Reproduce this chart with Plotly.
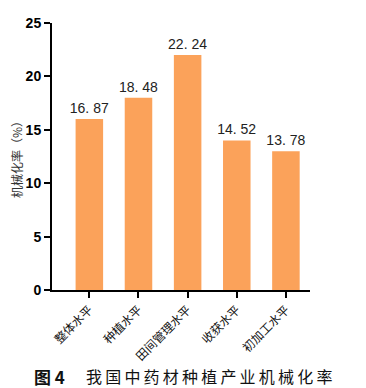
import plotly.graph_objects as go

categories = ["整体水平", "种植水平", "田间管理水平", "收获水平", "初加工水平"]
bar_heights = [16, 18, 22, 14, 13]
value_labels = ["16. 87", "18. 48", "22. 24", "14. 52", "13. 78"]
y_ticks = [0, 5, 10, 15, 20, 25]
caption_label = "图 4"
caption_text = "我国中药材种植产业机械化率"

fig = go.Figure()
fig.add_trace(go.Bar(
    x=categories, y=bar_heights,
    marker=dict(color="#FBA25A", line=dict(width=0)),
    width=0.56,
    text=value_labels, textposition="outside",
    constraintext="none",
    textfont=dict(family="Liberation Sans, Arial", size=14, color="#222"),
    cliponaxis=False,
))

fig.update_layout(
    width=366, height=388,
    margin=dict(l=52, r=56, t=23, b=98, autoexpand=False),
    paper_bgcolor="white", plot_bgcolor="white",
    showlegend=False,
    bargap=0.44,
    xaxis=dict(
        range=[-0.76, 4.49], automargin=False,
        showline=True, linecolor="black", linewidth=2,
        ticks="outside", ticklen=6, tickwidth=2, tickcolor="black",
        tickangle=-45,
        tickfont=dict(family="Noto Sans CJK SC", size=12, color="#111"),
        showgrid=False, zeroline=False,
    ),
    yaxis=dict(
        range=[0, 25], tickvals=y_ticks, automargin=False,
        showline=True, linecolor="black", linewidth=2,
        ticks="outside", ticklen=6, tickwidth=2, tickcolor="black",
        tickfont=dict(family="Liberation Sans, Arial", size=14, color="black", weight="bold"),
        showgrid=False, zeroline=False,
        title=dict(text="机械化率（%）", font=dict(family="Noto Sans CJK SC", size=12, color="#333"), standoff=0),
    ),
)

plot_w = 366 - 52 - 56
plot_h = 388 - 23 - 98
cap_y = -(376 - 290) / plot_h

fig.add_annotation(
    text="<b>" + caption_label + "</b>",
    xref="paper", yref="paper", x=(32 - 52) / plot_w, y=cap_y,
    xanchor="left", yanchor="middle", showarrow=False,
    font=dict(family="Noto Sans CJK SC", size=17, color="#111"),
)
fig.add_annotation(
    text="\u2009".join(caption_text),
    xref="paper", yref="paper", x=(84 - 52) / plot_w, y=cap_y,
    xanchor="left", yanchor="middle", showarrow=False,
    font=dict(family="Noto Sans CJK SC", size=16, color="#111"),
)

fig.write_html(
    "out.html",
    config={"displayModeBar": False},
    post_script="document.body.style.margin='0';document.body.style.overflow='hidden';",
)
